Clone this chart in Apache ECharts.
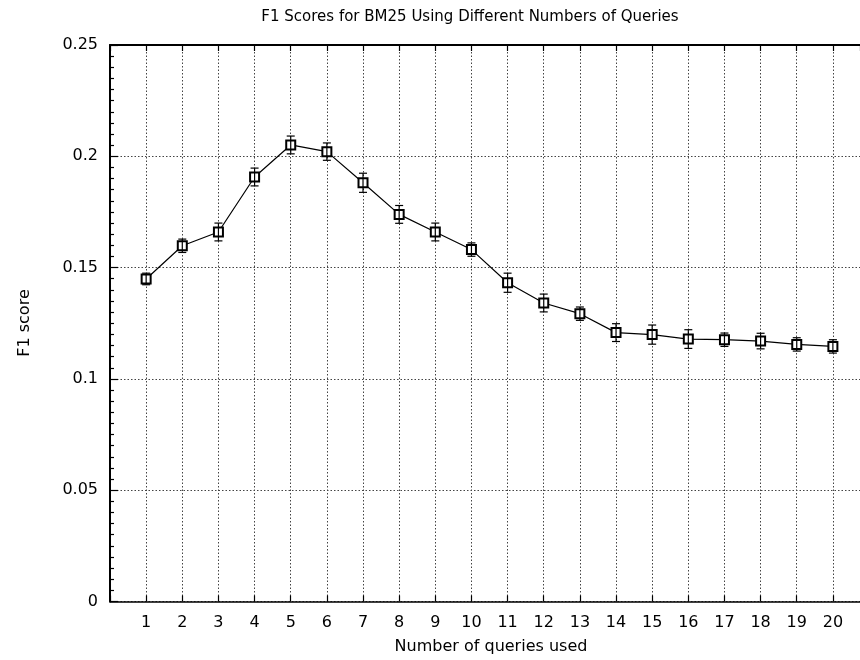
<!DOCTYPE html>
<html>
<head>
<meta charset="utf-8">
<script src="https://cdn.jsdelivr.net/npm/echarts@6/dist/echarts.min.js"></script>
<style>
  html, body { margin: 0; padding: 0; background: #fff; }
  #chart { width: 860px; height: 660px; }
</style>
</head>
<body>
<div id="chart"></div>
<script>
const queries = [1, 2, 3, 4, 5, 6, 7, 8, 9, 10, 11, 12, 13, 14, 15, 16, 17, 18, 19, 20];
const f1Scores = [0.1449, 0.1598, 0.1660, 0.1907, 0.2051, 0.2021, 0.1881, 0.1739, 0.1660, 0.1581,
                  0.1432, 0.1341, 0.1293, 0.1208, 0.1199, 0.1179, 0.1176, 0.1170, 0.1155, 0.1146];
const f1Errors = [0.0026, 0.0030, 0.0040, 0.0040, 0.0040, 0.0039, 0.0043, 0.0040, 0.0040, 0.0030,
                  0.0043, 0.0040, 0.0030, 0.0040, 0.0043, 0.0042, 0.0030, 0.0035, 0.0030, 0.0030];
const xTickLabels = ['1','2','3','4','5','6','7','8','9','10','11','12','13','14','15','16','17','18','19','20'];
const yTickValues = [0, 0.05, 0.1, 0.15, 0.2, 0.25];

const FONT = '"DejaVu Sans", "Liberation Sans", Arial, sans-serif';
const chart = echarts.init(document.getElementById('chart'), null, { renderer: 'canvas' });

const lineData = queries.map((q, i) => [q, f1Scores[i]]);
const errData = queries.map((q, i) => [q, f1Scores[i], f1Errors[i]]);

const gridDash = { color: '#444', width: 1, type: [1.5, 2] };

const option = {
  animation: false,
  backgroundColor: '#fff',
  graphic: [
    { type: 'text', x: 470, y: 17, style: { text: 'F1 Scores for BM25 Using Different Numbers of Queries', font: '15px ' + FONT, fill: '#000', textAlign: 'center', textVerticalAlign: 'middle' } },
    { type: 'text', x: 491, y: 647, style: { text: 'Number of queries used', font: '16px ' + FONT, fill: '#000', textAlign: 'center', textVerticalAlign: 'middle' } },
    { type: 'text', x: 25, y: 323, rotation: Math.PI / 2, style: { text: 'F1 score', font: '16px ' + FONT, fill: '#000', textAlign: 'center', textVerticalAlign: 'middle' } }
  ],
  grid: { left: 110, right: 0, top: 45, bottom: 58.5, show: false },
  xAxis: [
    {
      type: 'value', min: 0, max: 20.75, interval: 1, position: 'bottom',
      axisLine: { show: true, onZero: false, lineStyle: { color: '#000', width: 1.5 } },
      axisTick: { show: true, inside: true, length: 6, lineStyle: { color: '#000', width: 1.2 } },
      axisLabel: {
        margin: 13, color: '#000', fontFamily: FONT, fontSize: 16, showMaxLabel: false,
        formatter: v => (v >= 1 && v <= 20 && Number.isInteger(v)) ? xTickLabels[v - 1] : ''
      },
      splitLine: { show: true, lineStyle: gridDash }
    },
    {
      type: 'value', min: 0, max: 20.75, interval: 1, position: 'top',
      axisLine: { show: true, onZero: false, lineStyle: { color: '#000', width: 2 } },
      axisTick: { show: true, inside: true, length: 6, lineStyle: { color: '#000', width: 1.2 } },
      axisLabel: { show: false },
      splitLine: { show: false }
    }
  ],
  yAxis: [
    {
      type: 'value', min: 0, max: 0.25, interval: 0.05,
      axisLine: { show: true, onZero: false, lineStyle: { color: '#000', width: 2 } },
      axisTick: { show: true, inside: true, length: 8, lineStyle: { color: '#000', width: 1.2 } },
      minorTick: { show: true, splitNumber: 10, length: 4, lineStyle: { color: '#000', width: 1.2 } },
      axisLabel: {
        margin: 12, color: '#000', fontFamily: FONT, fontSize: 16,
        formatter: v => {
          const m = yTickValues.find(t => Math.abs(t - v) < 1e-9);
          return m === undefined ? '' : String(m);
        }
      },
      splitLine: { show: true, lineStyle: gridDash }
    }
  ],
  series: [
    {
      type: 'line',
      data: lineData,
      symbol: 'emptyRect',
      symbolSize: 9,
      lineStyle: { color: '#000', width: 1.2 },
      itemStyle: { color: '#000', borderColor: '#000', borderWidth: 1.6 },
      z: 3
    },
    {
      type: 'custom',
      data: errData,
      z: 4,
      renderItem: function (params, api) {
        const x = api.value(0), y = api.value(1), e = api.value(2);
        const top = api.coord([x, y + e]);
        const bot = api.coord([x, y - e]);
        const w = 4;
        const st = { stroke: '#000', lineWidth: 1.2 };
        return {
          type: 'group',
          children: [
            { type: 'line', shape: { x1: top[0], y1: top[1], x2: bot[0], y2: bot[1] }, style: st },
            { type: 'line', shape: { x1: top[0] - w, y1: top[1], x2: top[0] + w, y2: top[1] }, style: st },
            { type: 'line', shape: { x1: bot[0] - w, y1: bot[1], x2: bot[0] + w, y2: bot[1] }, style: st }
          ]
        };
      }
    }
  ]
};
chart.setOption(option);
</script>
</body>
</html>
